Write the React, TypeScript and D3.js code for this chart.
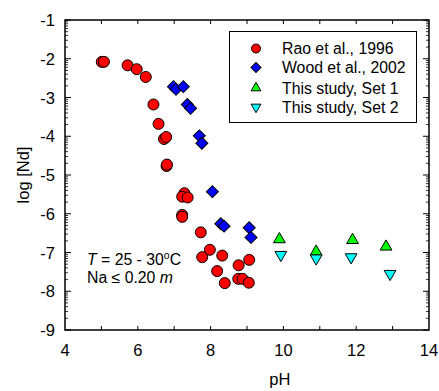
import * as d3 from "d3";
import React, { useEffect, useRef } from "react";

// Rao et al., 1996
const raoPH = [5.01, 5.07, 5.72, 5.97, 6.22, 6.43, 6.57, 6.72, 6.78, 6.79, 6.8, 7.28, 7.22, 7.37, 7.22, 7.22, 7.73, 7.98, 7.77, 8.32, 8.18, 8.39, 8.77, 8.76, 8.88, 9.06, 9.05];
const raoNd = [-2.08, -2.08, -2.17, -2.27, -2.47, -3.18, -3.68, -4.07, -4.02, -4.77, -4.73, -5.47, -5.56, -5.58, -6.03, -6.08, -6.48, -6.93, -7.12, -7.08, -7.48, -7.79, -7.33, -7.68, -7.68, -7.19, -7.78];

// Wood et al., 2002
const woodPH = [6.98, 7.05, 7.25, 7.36, 7.45, 7.69, 7.76, 8.05, 8.28, 8.37, 9.06, 9.11];
const woodNd = [-2.72, -2.79, -2.72, -3.18, -3.28, -3.99, -4.18, -5.43, -6.26, -6.32, -6.36, -6.61];

// This study, Set 1
const set1PH = [9.89, 10.9, 11.9, 12.82];
const set1Nd = [-6.66, -6.98, -6.68, -6.85];

// This study, Set 2
const set2PH = [9.93, 10.9, 11.86, 12.93];
const set2Nd = [-7.06, -7.15, -7.12, -7.55];

const xTicks = [4, 6, 8, 10, 12, 14];
const yTicks = [-1, -2, -3, -4, -5, -6, -7, -8, -9];
const legendLabels = ["Rao et al., 1996", "Wood et al., 2002", "This study, Set 1", "This study, Set 2"];

const App: React.FC = () => {
  const ref = useRef<SVGSVGElement>(null);

  useEffect(() => {
    const W = 439;
    const H = 391;
    const margin = { top: 20, right: 10, bottom: 61, left: 65 };
    const width = 364;
    const height = 310;
    const font = "Liberation Sans, Arial, sans-serif";

    const svg = d3.select(ref.current).html("");
    svg.attr("width", W).attr("height", H);
    const g = svg.append("g").attr("transform", `translate(${margin.left},${margin.top})`);

    const x = d3.scaleLinear().domain([4, 14]).range([0, width]);
    const y = d3.scaleLinear().domain([-9, -1]).range([height, 0]);

    // x ticks every 1 (bottom & top, inward)
    const xMinor = d3.range(5, 14, 1);
    xMinor.forEach((v) => {
      g.append("line").attr("x1", x(v)).attr("x2", x(v)).attr("y1", height).attr("y2", height - 4).attr("stroke", "#000").attr("stroke-width", 1);
      g.append("line").attr("x1", x(v)).attr("x2", x(v)).attr("y1", 0).attr("y2", 4).attr("stroke", "#000").attr("stroke-width", 1);
    });

    // y ticks: log-style minor ticks in each decade
    const yMinor: number[] = [];
    for (let d = -9; d < -1; d++) {
      for (let k = 2; k <= 9; k++) yMinor.push(d + Math.log10(k));
    }
    yMinor.forEach((v) => {
      g.append("line").attr("x1", 0).attr("x2", 3).attr("y1", y(v)).attr("y2", y(v)).attr("stroke", "#000").attr("stroke-width", 0.8);
      g.append("line").attr("x1", width).attr("x2", width - 3).attr("y1", y(v)).attr("y2", y(v)).attr("stroke", "#000").attr("stroke-width", 0.8);
    });
    yTicks.forEach((v) => {
      g.append("line").attr("x1", 0).attr("x2", 6).attr("y1", y(v)).attr("y2", y(v)).attr("stroke", "#000").attr("stroke-width", 1);
      g.append("line").attr("x1", width).attr("x2", width - 6).attr("y1", y(v)).attr("y2", y(v)).attr("stroke", "#000").attr("stroke-width", 1);
    });

    // frame
    g.append("rect").attr("x", 0).attr("y", 0).attr("width", width).attr("height", height)
      .attr("fill", "none").attr("stroke", "#000").attr("stroke-width", 1.5);

    // tick labels
    g.selectAll("text.xt").data(xTicks).enter().append("text")
      .attr("x", (d) => x(d)).attr("y", height + 26).attr("text-anchor", "middle")
      .attr("font-family", font).attr("font-size", 16.5).text((d) => d);
    g.selectAll("text.yt").data(yTicks).enter().append("text")
      .attr("x", -10).attr("y", (d) => y(d) + 6).attr("text-anchor", "end")
      .attr("font-family", font).attr("font-size", 16.5).text((d) => d);

    // axis titles
    svg.append("text").attr("x", margin.left + x(9.9)).attr("y", 385).attr("text-anchor", "middle")
      .attr("font-family", font).attr("font-size", 16.5).text("pH");
    svg.append("text").attr("transform", `translate(29,${margin.top + y(-5)}) rotate(-90)`)
      .attr("text-anchor", "middle").attr("font-family", font).attr("font-size", 16.5).text("log [Nd]");

    // markers
    const circle = (px: number[], py: number[]) => {
      px.forEach((p, i) => {
        g.append("circle").attr("cx", x(p)).attr("cy", y(py[i])).attr("r", 5.5)
          .attr("fill", "#ff0000").attr("stroke", "#000").attr("stroke-width", 1);
      });
    };
    const sym = (px: number[], py: number[], type: d3.SymbolType, size: number, fill: string, rot: number) => {
      px.forEach((p, i) => {
        g.append("path").attr("d", d3.symbol().type(type).size(size)()!)
          .attr("transform", `translate(${x(p)},${y(py[i])}) rotate(${rot})`)
          .attr("fill", fill).attr("stroke", "#000").attr("stroke-width", 1);
      });
    };
    circle(raoPH, raoNd);
    sym(woodPH, woodNd, d3.symbolSquare, 72, "#0000ff", 45);
    sym(set1PH, set1Nd, d3.symbolTriangle, 60, "#00ff00", 0);
    sym(set2PH, set2Nd, d3.symbolTriangle, 60, "#00ffff", 180);

    // legend
    const lg = svg.append("g");
    lg.append("rect").attr("x", 229.5).attr("y", 31.5).attr("width", 187).attr("height", 91)
      .attr("fill", "#fff").attr("stroke", "#000").attr("stroke-width", 1);
    const rows = [48.5, 67.5, 88, 107];
    legendLabels.forEach((t, i) => {
      lg.append("text").attr("x", 282).attr("y", rows[i] + 5.5).attr("font-family", font)
        .attr("font-size", 15.8).text(t);
    });
    lg.append("circle").attr("cx", 256).attr("cy", rows[0]).attr("r", 4.5)
      .attr("fill", "#ff0000").attr("stroke", "#000").attr("stroke-width", 1);
    const lsym = (i: number, type: d3.SymbolType, size: number, fill: string, rot: number) => {
      lg.append("path").attr("d", d3.symbol().type(type).size(size)()!)
        .attr("transform", `translate(256,${rows[i]}) rotate(${rot})`)
        .attr("fill", fill).attr("stroke", "#000").attr("stroke-width", 1);
    };
    lsym(1, d3.symbolSquare, 50, "#0000ff", 45);
    lsym(2, d3.symbolTriangle, 42, "#00ff00", 0);
    lsym(3, d3.symbolTriangle, 42, "#00ffff", 180);

    // annotation
    const a1 = svg.append("text").attr("x", 87).attr("y", 265).attr("font-family", font).attr("font-size", 15.8);
    a1.append("tspan").attr("font-style", "italic").text("T");
    a1.append("tspan").text(" = 25 - 30");
    a1.append("tspan").attr("font-size", 10.5).attr("dy", -6).text("o");
    a1.append("tspan").attr("dy", 6).text("C");
    const a2 = svg.append("text").attr("x", 87).attr("y", 283).attr("font-family", font).attr("font-size", 15.8);
    a2.append("tspan").text("Na ≤ 0.20 ");
    a2.append("tspan").attr("font-style", "italic").text("m");
  }, []);

  return <svg ref={ref} style={{ position: "absolute", left: 0, top: 0 }}></svg>;
};

export default App;
